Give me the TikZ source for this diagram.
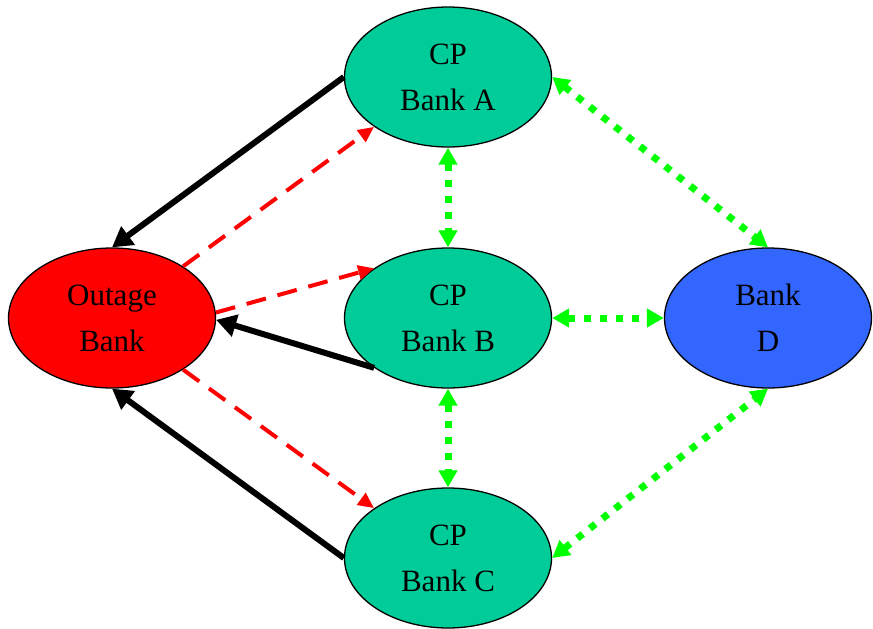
\documentclass[tikz,border=0pt]{standalone}
\usepackage{fontspec}
\setmainfont{Liberation Serif}
\usetikzlibrary{shapes.geometric,arrows.meta}
\definecolor{cpgreen}{RGB}{0,204,153}
\definecolor{bankblue}{RGB}{51,102,255}
\definecolor{lime}{RGB}{0,255,0}
\definecolor{outred}{RGB}{255,0,0}
\tikzset{
  bank/.style={ellipse, draw=black, line width=1.3pt, minimum width=207pt, minimum height=140pt,
    inner sep=0pt, align=center, font=\fontsize{31}{46}\selectfont},
  blackedge/.style={draw=black, line width=6pt, -{Triangle[length=20pt,width=22pt]}},
  rededge/.style={draw=outred, line width=4pt, dash pattern=on 20pt off 12pt,
    -{Triangle[length=16pt,width=14pt]}},
  greenedge/.style={draw=lime, line width=7pt, dash pattern=on 7pt off 9pt,
    {Triangle[length=17pt,width=18pt]}-{Triangle[length=17pt,width=18pt]}}
}
\begin{document}
\begin{tikzpicture}[x=1pt,y=-1pt]
\useasboundingbox (0,0) rectangle (873,629);
\node[bank, fill=cpgreen] (A) at (448,77) {CP\\Bank A};
\node[bank, fill=cpgreen] (B) at (448,318) {CP\\Bank B};
\node[bank, fill=cpgreen] (C) at (448,558) {CP\\Bank C};
\node[bank, fill=outred] (O) at (112,318) {Outage\\Bank};
\node[bank, fill=bankblue] (D) at (768,318) {Bank\\D};
% black edges
\draw[blackedge] (A.west) -- (O.north);
\draw[blackedge] (B.214) -- (O.-1);
\draw[blackedge] (C.west) -- (O.south);
% red dashed edges
\draw[rededge] (O.36) -- (A.214);
\draw[rededge] (O.3) -- (B.146);
\draw[rededge] (O.-36) -- (C.146);
% green dotted edges
\draw[greenedge] (A.south) -- (B.north);
\draw[greenedge] (B.south) -- (C.north);
\draw[greenedge] (B.east) -- (D.west);
\draw[greenedge] (A.east) -- (D.north);
\draw[greenedge] (C.east) -- (D.south);
\end{tikzpicture}
\end{document}
